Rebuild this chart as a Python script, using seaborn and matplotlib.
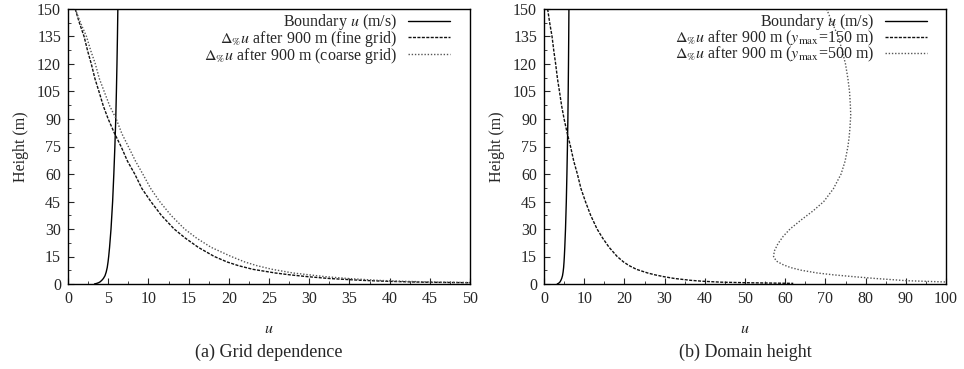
import numpy as np
import pandas as pd
import matplotlib
matplotlib.use("Agg")
import matplotlib.pyplot as plt
from matplotlib.ticker import MultipleLocator
import seaborn as sns

# ---- data ----
boundary_h = [0.05, 0.3, 0.7, 1.2, 2, 3, 4.5, 6.5, 9, 12, 15, 20, 30, 45, 60, 75, 90, 105, 120, 135, 150]
boundary_u = [3.3, 3.55, 3.8, 4.0, 4.2, 4.4, 4.6, 4.75, 4.88, 4.98, 5.06, 5.17, 5.35, 5.55, 5.7, 5.83, 5.94, 6.02, 6.09, 6.15, 6.2]

fine_h = [150, 142, 135, 127, 120, 112, 105, 97, 90, 82, 75, 67, 60, 52, 45, 37.5, 30, 25, 20, 15, 12, 10, 8, 6, 5, 4, 3, 2, 1.5, 1.0, 0.7]
fine_u = [0.9, 1.45, 2.0, 2.45, 2.9, 3.35, 3.85, 4.4, 5.0, 5.8, 6.6, 7.4, 8.3, 9.2, 10.3, 11.6, 13.2, 14.6, 16.2, 18.2, 19.8, 21.2, 23.0, 25.8, 27.6, 29.8, 32.5, 36.5, 39.5, 44.0, 50.0]

coarse_h = [150, 142, 135, 127, 120, 112, 105, 97, 90, 82, 75, 67, 60, 52, 45, 37.5, 30, 25, 20, 15, 12, 10, 8, 6, 5, 4, 3, 2, 1.5, 1.0, 0.8]
coarse_u = [0.9, 1.6, 2.3, 2.85, 3.4, 3.9, 4.5, 5.2, 6.0, 6.7, 7.5, 8.4, 9.3, 10.3, 11.4, 12.8, 14.5, 16.0, 17.8, 20.3, 22.0, 23.5, 25.4, 28.0, 30.0, 32.0, 34.8, 38.5, 41.5, 46.0, 50.0]

ymax150_h = [150, 142, 135, 127, 120, 112, 105, 97, 90, 82, 75, 67, 60, 52, 45, 37.5, 30, 25, 20, 15, 12, 10, 8, 6, 5, 4, 3, 2, 1.5, 1.0, 0.7, 0.35]
ymax150_u = [0.9, 1.45, 2.0, 2.45, 2.9, 3.35, 3.85, 4.4, 5.0, 5.8, 6.6, 7.4, 8.3, 9.2, 10.3, 11.6, 13.2, 14.6, 16.2, 18.2, 19.8, 21.2, 23.0, 25.8, 27.6, 29.8, 32.5, 36.5, 39.5, 44.0, 50.0, 62.0]

ymax500_h = [150, 142, 135, 127, 120, 112, 105, 98, 92, 85, 80, 75, 67, 60, 52, 45, 40, 35, 30, 26, 22, 18, 15, 12.5, 10.5, 9, 7.5, 6, 5, 4, 3, 2.3, 1.8, 1.1]
ymax500_u = [70.3, 71.8, 73.2, 74.2, 75.0, 75.6, 76.0, 76.2, 76.3, 76.1, 75.9, 75.6, 74.9, 73.9, 72.0, 69.6, 67.0, 64.0, 61.2, 59.5, 58.2, 57.3, 57.1, 57.8, 59.5, 61.3, 64.0, 68.0, 72.0, 77.0, 82.5, 87.0, 90.2, 100.0]

y_ticks = [0, 15, 30, 45, 60, 75, 90, 105, 120, 135, 150]
labels_a = ["Boundary $u$ (m/s)",
            r"$\Delta_{\%}u$ after 900 m (fine grid)",
            r"$\Delta_{\%}u$ after 900 m (coarse grid)"]
labels_b = ["Boundary $u$ (m/s)",
            r"$\Delta_{\%}u$ after 900 m ($y_{\mathrm{max}}$=150 m)",
            r"$\Delta_{\%}u$ after 900 m ($y_{\mathrm{max}}$=500 m)"]
captions = ["(a) Grid dependence", "(b) Domain height"]

# ---- style ----
sns.set_style("ticks")
plt.rcParams["font.family"] = ["Liberation Serif", "DejaVu Serif"]
plt.rcParams["mathtext.fontset"] = "stix"
plt.rcParams["axes.linewidth"] = 1.0
plt.rcParams["xtick.direction"] = "in"
plt.rcParams["ytick.direction"] = "in"

FS = 11.5
W, H = 964, 369
fig = plt.figure(figsize=(W / 100, H / 100), dpi=100)
ax_a = fig.add_axes([68 / W, 1 - 284 / H, 402 / W, 275 / H])
ax_b = fig.add_axes([544 / W, 1 - 284 / H, 402 / W, 275 / H])

solid = dict(color="black", lw=1.0, linestyle="-")
dashed = dict(color="#111111", lw=1.0, linestyle=(0, (2.2, 1.0)))
dotted = dict(color="#555555", lw=1.0, linestyle=(0, (1.0, 1.3)))


def draw(ax, u_list, h_list, styles, labels):
    for u, h, st, lab in zip(u_list, h_list, styles, labels):
        df = pd.DataFrame({"u": u, "h": h})
        sns.lineplot(data=df, x="u", y="h", ax=ax, sort=False, estimator=None,
                     label=lab, **st)


draw(ax_a, [boundary_u, fine_u, coarse_u], [boundary_h, fine_h, coarse_h],
     [solid, dashed, dotted], labels_a)
draw(ax_b, [boundary_u, ymax150_u, ymax500_u], [boundary_h, ymax150_h, ymax500_h],
     [solid, dashed, dotted], labels_b)

for ax, xmax, xmaj, cap, legx in [(ax_a, 50, 5, captions[0], 451),
                                   (ax_b, 100, 10, captions[1], 928)]:
    ax.set_xlim(0, xmax)
    ax.set_ylim(0, 150)
    ax.set_yticks(y_ticks)
    ax.xaxis.set_major_locator(MultipleLocator(xmaj))
    ax.xaxis.set_minor_locator(MultipleLocator(xmaj / 2))
    ax.yaxis.set_minor_locator(MultipleLocator(7.5))
    ax.tick_params(which="major", length=4, width=0.8, labelsize=FS, pad=5)
    ax.tick_params(which="minor", length=2, width=0.6)
    ax.set_xlabel("$u$", fontsize=FS, labelpad=10)
    ax.set_ylabel("Height (m)", fontsize=FS, labelpad=6)
    for s in ax.spines.values():
        s.set_visible(True)
        s.set_color("black")
    pos = ax.get_position()
    ax.text(pos.x0 + pos.width / 2, (H - 352) / H, cap, transform=fig.transFigure,
            ha="center", va="center", fontsize=13)
    # legend, gnuplot style (text then sample line)
    x_anchor = (legx - pos.x0 * W) / (pos.width * W)
    leg = ax.legend(loc="upper right", bbox_to_anchor=(x_anchor + 0.005, 1.0),
                    frameon=False, markerfirst=False, fontsize=FS,
                    handlelength=2.6, handletextpad=0.7, labelspacing=-0.2,
                    borderaxespad=0.1, borderpad=0.1)
    for t in leg.get_texts():
        t.set_ha("right")

fig.savefig("out.png", dpi=100)
